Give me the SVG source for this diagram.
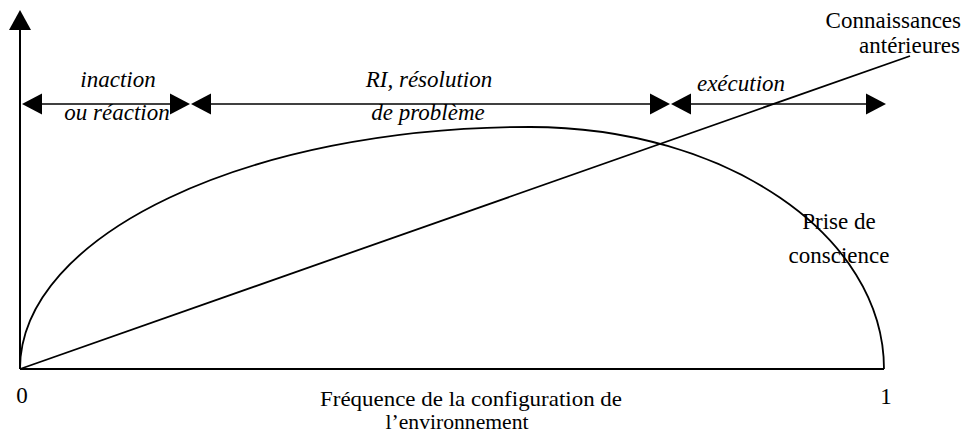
<svg xmlns="http://www.w3.org/2000/svg" width="964" height="436" viewBox="0 0 964 436">
  <style>
    text { font-family: "Liberation Serif", "Times New Roman", serif; font-size: 23px; fill: #000; }
    .it { font-style: italic; }
    .caption { font-size: 21px; }
    .axis { stroke: #000; stroke-width: 2; fill: none; }
    .curve { stroke: #000; stroke-width: 1.8; fill: none; }
    .span { stroke: #000; stroke-width: 1.6; fill: none; }
    .head { fill: #000; stroke: none; }
  </style>

  <!-- axes -->
  <g id="axes">
    <line class="axis" x1="20" y1="369" x2="20" y2="26"/>
    <polygon class="head" points="20,10 31,30 9,30"/>
    <line class="axis" x1="20" y1="369" x2="884" y2="369"/>
    <text x="22" y="403" text-anchor="middle">0</text>
    <text x="886" y="404" text-anchor="middle">1</text>
    <text class="caption" x="471" y="406" text-anchor="middle" textLength="302" lengthAdjust="spacingAndGlyphs">Fréquence de la configuration de</text>
    <text class="caption" x="457" y="429" text-anchor="middle" textLength="143" lengthAdjust="spacingAndGlyphs">l’environnement</text>
  </g>

  <!-- awareness curve -->
  <g id="prise-de-conscience">
    <path class="curve" d="M20,369 C20,235 248,127 530,127 C725,127 884,235 884,369"/>
    <text x="839" y="229" text-anchor="middle">Prise de</text>
    <text x="839" y="263" text-anchor="middle">conscience</text>
  </g>

  <!-- prior knowledge line -->
  <g id="connaissances">
    <line class="curve" x1="20" y1="369" x2="910" y2="56"/>
    <text x="961" y="28" text-anchor="end">Connaissances</text>
    <text x="960" y="53" text-anchor="end">antérieures</text>
  </g>

  <!-- interval arrows -->
  <g id="connectors">
    <line class="span" x1="40" y1="104" x2="172" y2="104"/>
    <polygon class="head" points="22,104 42,93.5 42,114.5"/>
    <polygon class="head" points="190,104 170,93.5 170,114.5"/>

    <line class="span" x1="208" y1="104" x2="652" y2="104"/>
    <polygon class="head" points="191,104 211,93.5 211,114.5"/>
    <polygon class="head" points="670,104 650,93.5 650,114.5"/>

    <line class="span" x1="689" y1="104" x2="868" y2="104"/>
    <polygon class="head" points="671,104 691,93.5 691,114.5"/>
    <polygon class="head" points="886,104 866,93.5 866,114.5"/>
  </g>

  <g id="inaction">
    <text class="it" x="118" y="87" text-anchor="middle">inaction</text>
    <text class="it" x="117" y="120" text-anchor="middle">ou réaction</text>
  </g>
  <g id="resolution">
    <text class="it" x="429" y="87" text-anchor="middle">RI, résolution</text>
    <text class="it" x="428" y="120" text-anchor="middle">de problème</text>
  </g>
  <g id="execution">
    <text class="it" x="741" y="91" text-anchor="middle">exécution</text>
  </g>
</svg>
